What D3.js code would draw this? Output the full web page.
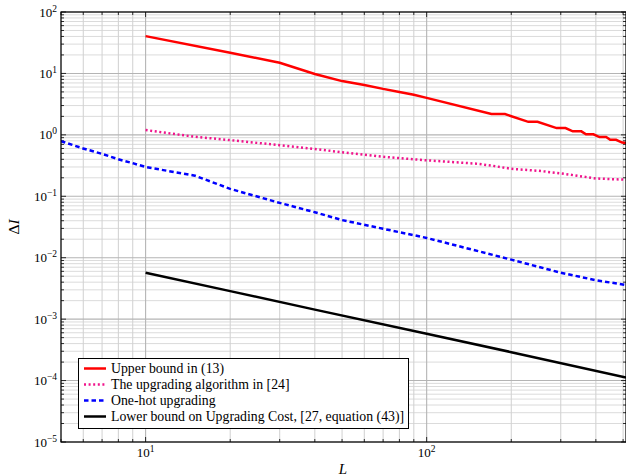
<!DOCTYPE html>
<html>
<head>
<meta charset="utf-8">
<script src="https://cdn.jsdelivr.net/npm/d3@7"></script>
<style>
  body { margin: 0; background: #fff; }
</style>
</head>
<body>
<div id="chart"></div>
<script>
// values (log-log)
const upperL = [10, 20, 30, 40, 50, 60, 70, 80, 90, 100, 170, 190, 230, 248, 290, 312, 331, 355, 369, 392, 412, 435, 450, 472, 496, 512];
const upperV = [40.5, 21.7, 14.9, 9.8, 7.5, 6.5, 5.6, 5.0, 4.5, 4.0, 2.18, 2.18, 1.63, 1.63, 1.29, 1.29, 1.14, 1.14, 1.02, 1.02, 0.92, 0.92, 0.83, 0.83, 0.75, 0.74];

const algoL = [10, 15, 20, 30, 40, 50, 70, 100, 150, 170, 200, 250, 300, 400, 512];
const algoV = [1.2, 0.93, 0.82, 0.68, 0.59, 0.52, 0.44, 0.385, 0.34, 0.316, 0.28, 0.26, 0.236, 0.195, 0.186];

const oneHotL = [5, 6, 7, 8, 9, 10, 15, 20, 30, 40, 50, 70, 100, 200, 300, 400, 512];
const oneHotV = [0.79, 0.6, 0.49, 0.40, 0.346, 0.30, 0.216, 0.132, 0.078, 0.055, 0.041, 0.0296, 0.021, 0.0093, 0.0057, 0.0043, 0.0036];

const lowerL = [10, 20, 40, 100, 200, 512];
const lowerV = [0.0057, 0.00286, 0.00143, 0.00058, 0.00029, 0.000112];

const legendLabels = [
    'Upper bound in (13)',
    'The upgrading algorithm in [24]',
    'One-hot upgrading',
    'Lower bound on Upgrading Cost, [27, equation (43)]'
];
const xTickExp = [1, 2];
const yTickExp = [2, 1, 0, -1, -2, -3, -4, -5];

const width = 626, height = 476;
const plotL = 61, plotR = 626, plotT = 12, plotB = 442;
const serif = '"Liberation Serif", "Times New Roman", "DejaVu Serif", serif';

const svg = d3.select('#chart').append('svg')
    .attr('width', width)
    .attr('height', height)
    .style('font-family', serif);

const x = d3.scaleLog().domain([5, 512]).range([plotL, plotR]);
const y = d3.scaleLog().domain([1e-5, 1e2]).range([plotB, plotT]);

// minor/major positions
const xMinor = [], yMinor = [];
for (let e = 0; e <= 2; e++) {
    for (let m = 2; m <= 9; m++) {
        const v = m * Math.pow(10, e);
        if (v >= 5 && v <= 512) xMinor.push(v);
    }
}
for (let e = -5; e <= 1; e++) {
    for (let m = 2; m <= 9; m++) yMinor.push(m * Math.pow(10, e));
}
const xMajor = xTickExp.map(e => Math.pow(10, e));
const yMajor = yTickExp.map(e => Math.pow(10, e));

// grid
const grid = svg.append('g');
grid.append('g').selectAll('line').data(xMinor).join('line')
    .attr('x1', d => x(d)).attr('x2', d => x(d))
    .attr('y1', plotT).attr('y2', plotB)
    .attr('stroke', '#c4c4c4').attr('stroke-width', 0.8);
grid.append('g').selectAll('line').data(yMinor).join('line')
    .attr('x1', plotL).attr('x2', plotR)
    .attr('y1', d => y(d)).attr('y2', d => y(d))
    .attr('stroke', '#d2d2d2').attr('stroke-width', 0.8);
grid.append('g').selectAll('line').data(xMajor).join('line')
    .attr('x1', d => x(d)).attr('x2', d => x(d))
    .attr('y1', plotT).attr('y2', plotB)
    .attr('stroke', '#b4b4b4').attr('stroke-width', 1.1);
grid.append('g').selectAll('line').data(yMajor).join('line')
    .attr('x1', plotL).attr('x2', plotR)
    .attr('y1', d => y(d)).attr('y2', d => y(d))
    .attr('stroke', '#b4b4b4').attr('stroke-width', 1.1);

// inward ticks on all sides
const ticks = svg.append('g').attr('stroke', '#000').attr('stroke-width', 0.8);
const tickSets = [
    { v: xMinor, len: 3, axis: 'x' }, { v: xMajor, len: 5, axis: 'x' },
    { v: yMinor, len: 3, axis: 'y' }, { v: yMajor, len: 5, axis: 'y' }
];
tickSets.forEach(t => {
    if (t.axis === 'x') {
        ticks.append('g').selectAll('line').data(t.v).join('line')
            .attr('x1', d => x(d)).attr('x2', d => x(d))
            .attr('y1', plotB).attr('y2', plotB - t.len);
        ticks.append('g').selectAll('line').data(t.v).join('line')
            .attr('x1', d => x(d)).attr('x2', d => x(d))
            .attr('y1', plotT).attr('y2', plotT + t.len);
    } else {
        ticks.append('g').selectAll('line').data(t.v).join('line')
            .attr('x1', plotL).attr('x2', plotL + t.len)
            .attr('y1', d => y(d)).attr('y2', d => y(d));
        ticks.append('g').selectAll('line').data(t.v).join('line')
            .attr('x1', plotR).attr('x2', plotR - t.len)
            .attr('y1', d => y(d)).attr('y2', d => y(d));
    }
});

// series
const series = [
    { L: upperL, V: upperV, color: '#ff0000', dash: null },
    { L: algoL, V: algoV, color: '#f0148c', dash: '2,2.6' },
    { L: oneHotL, V: oneHotV, color: '#0000ff', dash: '4.5,3' },
    { L: lowerL, V: lowerV, color: '#000000', dash: null }
];
const line = d3.line().x(d => x(d[0])).y(d => y(d[1]));
svg.append('defs').append('clipPath').attr('id', 'clip')
    .append('rect').attr('x', plotL).attr('y', plotT)
    .attr('width', plotR - plotL).attr('height', plotB - plotT);
svg.append('g').attr('clip-path', 'url(#clip)')
    .selectAll('path').data(series).join('path')
    .attr('d', s => line(d3.zip(s.L, s.V)))
    .attr('fill', 'none')
    .attr('stroke', s => s.color)
    .attr('stroke-width', 2.5)
    .attr('stroke-dasharray', s => s.dash);

// frame
svg.append('rect')
    .attr('x', plotL).attr('y', plotT)
    .attr('width', plotR - plotL).attr('height', plotB - plotT)
    .attr('fill', 'none').attr('stroke', '#000').attr('stroke-width', 1.2);

// tick labels
const yLab = svg.append('g').selectAll('text').data(yTickExp).join('text')
    .attr('x', 57).attr('y', e => y(Math.pow(10, e)) + 4.5)
    .attr('text-anchor', 'end')
    .attr('font-family', serif)
    .attr('font-size', 13);
yLab.append('tspan').text('10');
yLab.append('tspan').attr('dy', -5).attr('font-size', 9.5)
    .text(e => String(e).replace('-', '\u2212'));

const xLab = svg.append('g').selectAll('text').data(xTickExp).join('text')
    .attr('x', e => x(Math.pow(10, e))).attr('y', 457)
    .attr('text-anchor', 'middle')
    .attr('font-family', serif)
    .attr('font-size', 13);
xLab.append('tspan').text('10');
xLab.append('tspan').attr('dy', -5).attr('font-size', 9.5).text(e => e);

// axis labels
svg.append('text')
    .attr('x', 343).attr('y', 474)
    .attr('text-anchor', 'middle')
    .attr('font-family', serif)
    .attr('font-size', 15)
    .attr('font-style', 'italic')
    .text('L');

const yTitle = svg.append('text')
    .attr('transform', 'translate(19,227) rotate(-90)')
    .attr('text-anchor', 'middle')
    .attr('font-family', serif)
    .attr('font-size', 15.5);
yTitle.append('tspan').text('\u0394');
yTitle.append('tspan').attr('font-style', 'italic').text('I');

// legend
const lg = svg.append('g');
lg.append('rect')
    .attr('x', 78.5).attr('y', 358.5)
    .attr('width', 330).attr('height', 70)
    .attr('fill', '#fff').attr('stroke', '#000').attr('stroke-width', 1);
const rows = lg.selectAll('g').data(series).join('g')
    .attr('transform', (d, i) => `translate(0,${368.5 + i * 16})`);
rows.append('line')
    .attr('x1', 84).attr('x2', 106)
    .attr('stroke', d => d.color)
    .attr('stroke-width', 2.5)
    .attr('stroke-dasharray', d => d.dash);
rows.append('text')
    .attr('x', 111).attr('y', 4.5)
    .attr('font-family', serif)
    .attr('font-size', 13.8)
    .text((d, i) => legendLabels[i]);
</script>
</body>
</html>
